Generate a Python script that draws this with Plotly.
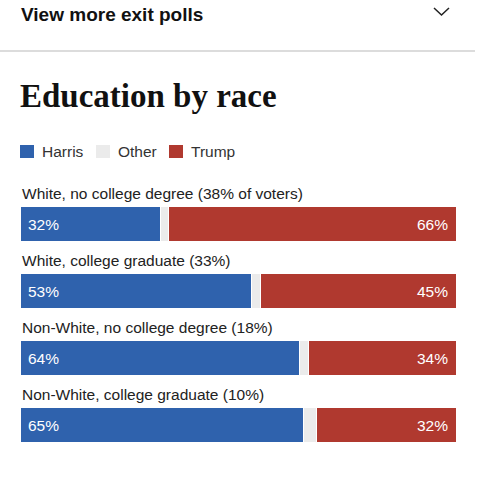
import plotly.graph_objects as go

W, H = 477, 483

categories = [
    "White, no college degree (38% of voters)",
    "White, college graduate (33%)",
    "Non-White, no college degree (18%)",
    "Non-White, college graduate (10%)",
]
harris = [32, 53, 64, 65]
other = [2, 2, 2, 3]
trump = [66, 45, 34, 32]
series_names = ["Harris", "Other", "Trump"]

BLUE = "#2f62ad"
GRAY = "#ebebeb"
RED = "#b0392f"
FONT = "Liberation Sans"


def px(x):
    return x / W


def py(y):
    return 1 - y / H


fig = go.Figure()
for name, vals, col in zip(series_names, [harris, other, trump], [BLUE, GRAY, RED]):
    fig.add_trace(go.Bar(
        y=categories, x=vals, name=name, orientation="h",
        marker=dict(color=col, line=dict(color="white", width=1.5)),
        width=0.52, showlegend=False, hoverinfo="skip",
    ))

annotations = []
for cat, h, t in zip(categories, harris, trump):
    annotations.append(dict(x=0, y=cat, xref="x", yref="y", text=cat, showarrow=False,
                            xanchor="left", yanchor="middle", yshift=31, xshift=-1,
                            font=dict(family=FONT, size=15.5, color="#222")))
    annotations.append(dict(x=0, y=cat, xref="x", yref="y", text=f"{h}%", showarrow=False,
                            xanchor="left", yanchor="middle", xshift=5,
                            font=dict(family=FONT, size=15.5, color="white")))
    annotations.append(dict(x=100, y=cat, xref="x", yref="y", text=f"{t}%", showarrow=False,
                            xanchor="right", yanchor="middle", xshift=-7,
                            font=dict(family=FONT, size=15.5, color="white")))

# header
annotations.append(dict(x=px(19), y=py(14), xref="paper", yref="paper", text="<b>View more exit polls</b>",
                        showarrow=False, xanchor="left", yanchor="middle",
                        font=dict(family=FONT, size=19, color="#111")))
# title
annotations.append(dict(x=px(18), y=py(96), xref="paper", yref="paper", text="<b>Education by race</b>",
                        showarrow=False, xanchor="left", yanchor="middle",
                        font=dict(family="Liberation Serif", size=33, color="#111")))

shapes = []
# legend
legend_x = [20, 96, 169]
legend_text_x = [40, 116, 189]
for name, col, sx, tx in zip(series_names, [BLUE, GRAY, RED], legend_x, legend_text_x):
    shapes.append(dict(type="rect", xref="paper", yref="paper",
                       x0=px(sx), x1=px(sx + 14), y0=py(158), y1=py(145),
                       fillcolor=col, line=dict(width=0)))
    annotations.append(dict(x=px(tx), y=py(151.5), xref="paper", yref="paper", text=name,
                            showarrow=False, xanchor="left", yanchor="middle",
                            font=dict(family=FONT, size=15.5, color="#333")))

# separator line
shapes.append(dict(type="line", xref="paper", yref="paper", x0=0, x1=px(475), y0=py(51), y1=py(51),
                   line=dict(color="#dcdcdc", width=2)))
# chevron
shapes.append(dict(type="path", xref="paper", yref="paper",
                   path=f"M {px(434)},{py(8)} L {px(441.5)},{py(15)} L {px(449)},{py(8)}",
                   line=dict(color="#222", width=1.5)))

fig.update_layout(
    width=W, height=H,
    margin=dict(l=0, r=0, t=0, b=0),
    paper_bgcolor="white", plot_bgcolor="white",
    barmode="stack", bargap=0,
    xaxis=dict(domain=[px(21), px(457)], range=[0, 100], visible=False, fixedrange=True),
    yaxis=dict(domain=[py(459), py(191)], range=[3.5, -0.5], autorange=False,
               visible=False, fixedrange=True),
    annotations=annotations, shapes=shapes,
    showlegend=False,
)

fig.write_html("out.html", config={"displayModeBar": False})
